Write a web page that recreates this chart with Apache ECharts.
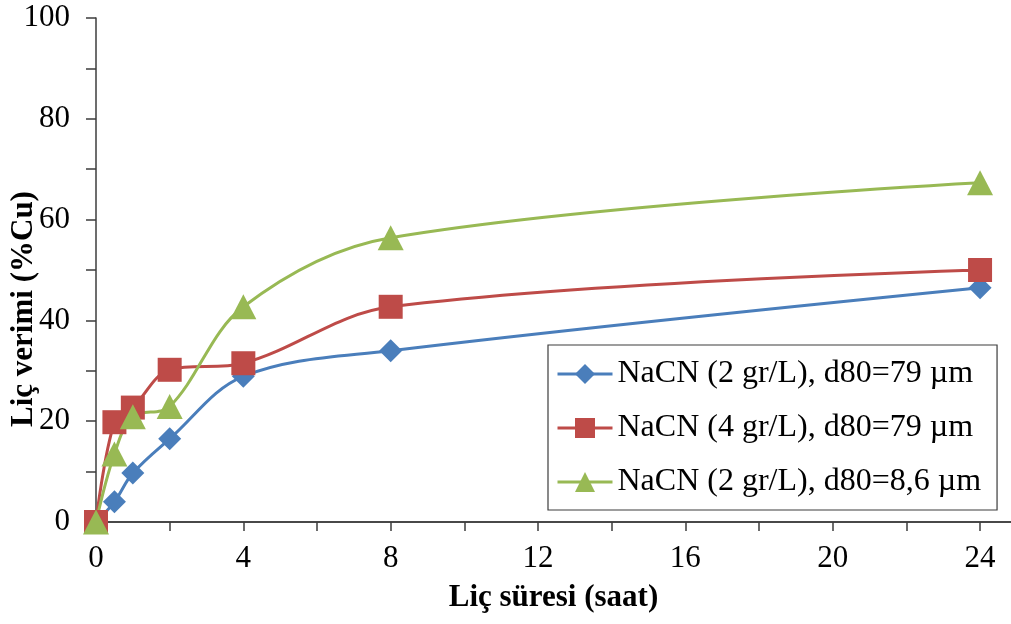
<!DOCTYPE html>
<html>
<head>
<meta charset="utf-8">
<script src="https://cdn.jsdelivr.net/npm/echarts@6/dist/echarts.min.js"></script>
<style>
  html, body { margin: 0; padding: 0; background: #fff; }
  #chart { width: 1011px; height: 624px; }
</style>
</head>
<body>
<div id="chart"></div>
<script>
// Leaching time (hours) and copper recovery (%) for three NaCN conditions
const hours = [0, 0.5, 1, 2, 4, 8, 24];
const cu2gr79 = [0, 4.0, 9.7, 16.5, 28.9, 34.0, 46.5];
const cu4gr79 = [0, 19.8, 22.7, 30.2, 31.5, 42.7, 50.0];
const cu2gr86 = [0, 13.5, 20.9, 22.9, 42.7, 56.4, 67.3];
const seriesNames = [
  'NaCN (2 gr/L), d80=79 µm',
  'NaCN (4 gr/L), d80=79 µm',
  'NaCN (2 gr/L), d80=8,6 µm'
];
const xLabelStep = 4;
const yLabelStep = 20;

const pairs = (ys) => hours.map((h, i) => [h, ys[i]]);
const serif = '"Liberation Serif", "Times New Roman", serif';
const axisColor = '#3c3c3c';

const chart = echarts.init(document.getElementById('chart'), null, { renderer: 'canvas' });

function lineSeries(name, data, color, symbol, size) {
  return {
    name: name,
    type: 'line',
    data: data,
    smooth: 0.35,
    symbol: symbol,
    symbolSize: size,
    showAllSymbol: true,
    lineStyle: { color: color, width: 3 },
    itemStyle: { color: color },
    emphasis: { disabled: true },
    z: 3
  };
}

chart.setOption({
  animation: false,
  backgroundColor: '#ffffff',
  grid: { left: 96, right: 0, top: 18, bottom: 102, containLabel: false, outerBoundsMode: 'none' },
  xAxis: [{
    type: 'value',
    min: 0,
    max: 24.84,
    interval: 2,
    name: 'Liç süresi (saat)',
    nameLocation: 'middle',
    nameGap: 60,
    nameMoveOverlap: false,
    nameTextStyle: { fontFamily: serif, fontWeight: 'bold', fontSize: 31, color: '#000' },
    axisLine: { show: true, onZero: false, lineStyle: { color: axisColor, width: 1.5 } },
    axisTick: { show: true, inside: false, length: 9, lineStyle: { color: axisColor, width: 1.5 } },
    axisLabel: {
      margin: 21,
      fontFamily: serif,
      fontSize: 31,
      color: '#000',
      showMaxLabel: false,
      formatter: (v) => (Math.abs(v % xLabelStep) < 1e-9 ? String(v) : '')
    },
    splitLine: { show: false }
  }, {
    type: 'value',
    position: 'top',
    min: 0,
    max: 24.84,
    axisLine: { show: true, lineStyle: { color: axisColor, width: 1.5 } },
    axisTick: { show: false },
    axisLabel: { show: false },
    splitLine: { show: false }
  }],
  yAxis: {
    type: 'value',
    min: 0,
    max: 100,
    interval: 10,
    name: 'Liç verimi (%Cu)',
    nameLocation: 'middle',
    nameGap: 57,
    nameRotate: 90,
    nameMoveOverlap: false,
    nameTextStyle: {
      fontFamily: serif, fontWeight: 'bold', fontSize: 31, color: '#000',
      padding: [0, 78, 0, 0]
    },
    axisLine: { show: true, lineStyle: { color: axisColor, width: 1.5 } },
    axisTick: { show: true, inside: false, length: 10, lineStyle: { color: axisColor, width: 1.5 } },
    axisLabel: {
      margin: 26,
      fontFamily: serif,
      fontSize: 31,
      color: '#000',
      formatter: (v) => (Math.abs(v % yLabelStep) < 1e-9 ? String(v) : '')
    },
    splitLine: { show: false }
  },
  legend: {
    show: true,
    orient: 'vertical',
    left: 548,
    top: 345,
    padding: [13, 16, 12, 8],
    itemGap: 22,
    itemWidth: 55,
    itemHeight: 25,
    borderColor: axisColor,
    borderWidth: 1.2,
    backgroundColor: '#fff',
    lineStyle: { width: 3 },
    textStyle: { fontFamily: serif, fontSize: 32, color: '#000', padding: [0, 0, 0, 0] },
    data: seriesNames
  },
  series: [
    lineSeries(seriesNames[0], pairs(cu2gr79), '#4a7ebb', 'diamond', [23, 23]),
    lineSeries(seriesNames[1], pairs(cu4gr79), '#be4b48', 'rect', [24, 24]),
    lineSeries(seriesNames[2], pairs(cu2gr86), '#98b954', 'triangle', [26, 25])
  ]
});
</script>
</body>
</html>
